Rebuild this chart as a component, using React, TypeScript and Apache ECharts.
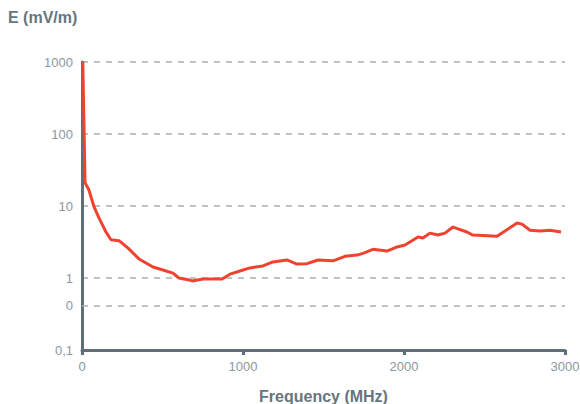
import React, { useEffect, useRef } from "react";
import * as echarts from "echarts";

const frequencies = [5, 19, 43, 75, 106, 149, 180, 230, 286, 354, 441, 503, 565, 602, 665, 683, 752, 814, 870, 919, 981, 1043, 1124, 1186, 1273, 1335, 1397, 1466, 1559, 1633, 1708, 1745, 1807, 1894, 1957, 2006, 2087, 2118, 2161, 2211, 2255, 2304, 2391, 2428, 2578, 2702, 2733, 2783, 2845, 2907, 2975];
const fieldValues = [1000, 21, 16.7, 9.7, 6.8, 4.35, 3.4, 3.3, 2.6, 1.84, 1.42, 1.29, 1.17, 1.0, 0.94, 0.91, 0.97, 0.97, 0.97, 1.13, 1.25, 1.38, 1.47, 1.67, 1.78, 1.56, 1.58, 1.78, 1.73, 2.0, 2.08, 2.2, 2.5, 2.37, 2.7, 2.87, 3.7, 3.6, 4.2, 3.95, 4.2, 5.1, 4.35, 3.95, 3.8, 5.8, 5.6, 4.6, 4.5, 4.6, 4.35];
const xTicks = [0, 1000, 2000, 3000];
const extraGridValue = 0.41;
const extraGridLabel = "0";

const AXIS = "#5e6f78";
const LABEL = "#8c979e";
const GRID = "#a7b1b7";
const NAME = "#66757e";
const FONT = "'Liberation Sans', Arial, sans-serif";

export default function App() {
  const ref = useRef<HTMLDivElement>(null);
  useEffect(() => {
    if (!ref.current) return;
    const chart = echarts.init(ref.current, null, { renderer: "svg" });
    chart.setOption({
      animation: false,
      backgroundColor: "#ffffff",
      textStyle: { fontFamily: FONT },
      grid: { left: 82, right: 15, top: 62, bottom: 54, containLabel: false, outerBoundsMode: "none" },
      graphic: [
        {
          type: "text",
          left: 8,
          top: 9,
          style: { text: "E (mV/m)", fontSize: 16, fontWeight: "bold", fill: NAME, fontFamily: FONT },
        },
      ],
      xAxis: {
        type: "value",
        min: xTicks[0],
        max: xTicks[xTicks.length - 1],
        interval: 1000,
        name: "Frequency (MHz)",
        nameLocation: "middle",
        nameGap: 38,
        nameTextStyle: { fontSize: 16, color: NAME, fontWeight: "bold", fontFamily: FONT },
        axisLine: { lineStyle: { color: AXIS, width: 3 } },
        axisTick: { show: true, length: 5, lineStyle: { color: AXIS, width: 3 } },
        axisLabel: { color: LABEL, fontSize: 13, margin: 10, fontFamily: FONT, formatter: (v: number) => String(v) },
        splitLine: { show: false },
      },
      yAxis: {
        type: "log",
        logBase: 10,
        min: 0.1,
        max: 1000,
        axisLine: { show: true, lineStyle: { color: AXIS, width: 3 } },
        axisTick: { show: false },
        axisLabel: {
          color: LABEL,
          fontSize: 13,
          margin: 9,
          fontFamily: FONT,
          formatter: (v: number) => (Math.abs(v - 0.1) < 1e-6 ? "0,1" : String(Math.round(v))),
        },
        splitLine: { show: true, lineStyle: { color: GRID, width: 1.5, type: [6, 6] } },
      },
      series: [
        {
          type: "line",
          data: frequencies.map((f, i) => [f, fieldValues[i]]),
          showSymbol: false,
          symbol: "none",
          lineStyle: { color: "#f0432f", width: 3 },
          z: 3,
          markLine: {
            silent: true,
            symbol: ["none", "none"],
            lineStyle: { color: GRID, width: 1.5, type: [6, 6] },
            label: {
              show: true,
              position: "start",
              formatter: extraGridLabel,
              color: LABEL,
              fontSize: 13,
              distance: 9,
              fontFamily: FONT,
            },
            data: [{ yAxis: extraGridValue }],
          },
        },
      ],
    });
    return () => chart.dispose();
  }, []);
  return <div ref={ref} style={{ position: "absolute", left: 0, top: 0, width: 580, height: 404 }} />;
}
